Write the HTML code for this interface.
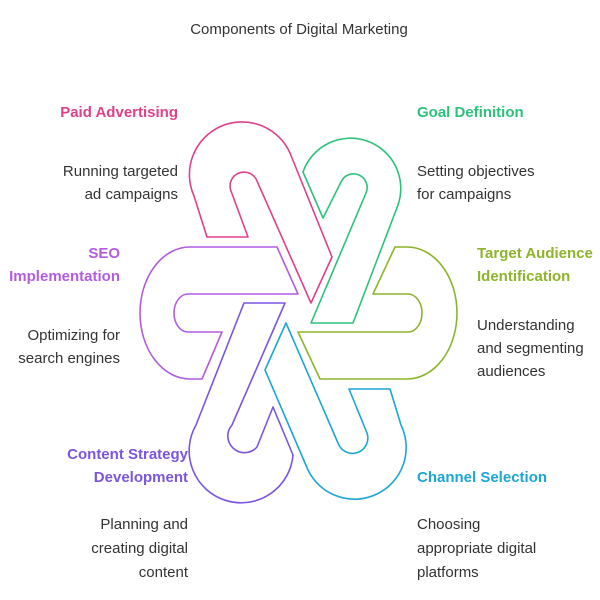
<!DOCTYPE html>
<html><head><meta charset="utf-8"><style>
html,body{margin:0;padding:0;background:#fff;}
svg{display:block;}
text{font-family:"Liberation Sans",Arial,sans-serif;font-size:15px;}
.d{fill:#333;}
.b{font-weight:bold;}
</style></head><body>
<svg width="600" height="600" viewBox="0 0 600 600" xmlns="http://www.w3.org/2000/svg">
<rect width="600" height="600" fill="#fff"/>
<text x="299" y="34" text-anchor="middle" class="d" style="font-size:15px">Components of Digital Marketing</text>
<g fill="none" stroke-width="1.6" stroke-linejoin="round">
<path stroke="#e0408a" d="M207,237 L194,196 A52,52 0 0 1 290,153 L332,257 L311,303 L257,181 A13,13 0 0 0 231,191 L248,237 Z"/>
<path stroke="#2cc27a" d="M303,172 A50,50 0 1 1 398,205 L353,323 L311,323 L366,193 A13,13 0 1 0 341,182 L323,218 Z"/>
<path stroke="#8db42a" d="M395,247 L407,247 A50,66 0 0 1 407,379 L320,379 L298,332 L408,332 A14,19 0 0 0 408,294 L373,294 Z"/>
<path stroke="#b45ce0" d="M277,247 L190,247 A50,66 0 0 0 190,379 L202,379 L222,332 L188,332 A14,19 0 0 1 188,294 L298,294 Z"/>
<path stroke="#7b55e0" d="M285,303 L244,303 L196,425 A52,52 0 1 0 293,455 L273,407 L257,447 A14,14 0 1 1 232,425 Z"/>
<path stroke="#1ba6d6" d="M286,323 L338,443 A15,15 0 0 0 367,433 L349,389 L390,389 L401,425 A50,50 0 1 1 308,470 L265,370 Z"/>
</g>
<g class="b">
<text x="178" y="117" text-anchor="end" fill="#e0408a">Paid Advertising</text>
<text x="120" y="258" text-anchor="end" fill="#b45ce0">SEO</text>
<text x="120" y="281" text-anchor="end" fill="#b45ce0">Implementation</text>
<text x="188" y="459" text-anchor="end" fill="#7b55e0">Content Strategy</text>
<text x="188" y="482" text-anchor="end" fill="#7b55e0">Development</text>
<text x="417" y="117" fill="#2cc27a">Goal Definition</text>
<text x="477" y="258" fill="#8db42a">Target Audience</text>
<text x="477" y="281" fill="#8db42a">Identification</text>
<text x="417" y="482" fill="#1ba6d6">Channel Selection</text>
</g>
<g class="d">
<text x="178" y="176" text-anchor="end">Running targeted</text>
<text x="178" y="199" text-anchor="end">ad campaigns</text>
<text x="120" y="340" text-anchor="end">Optimizing for</text>
<text x="120" y="363" text-anchor="end">search engines</text>
<text x="188" y="529" text-anchor="end">Planning and</text>
<text x="188" y="553" text-anchor="end">creating digital</text>
<text x="188" y="577" text-anchor="end">content</text>
<text x="417" y="176">Setting objectives</text>
<text x="417" y="199">for campaigns</text>
<text x="477" y="330">Understanding</text>
<text x="477" y="353">and segmenting</text>
<text x="477" y="376">audiences</text>
<text x="417" y="529">Choosing</text>
<text x="417" y="553">appropriate digital</text>
<text x="417" y="577">platforms</text>
</g>
</svg>
</body></html>
